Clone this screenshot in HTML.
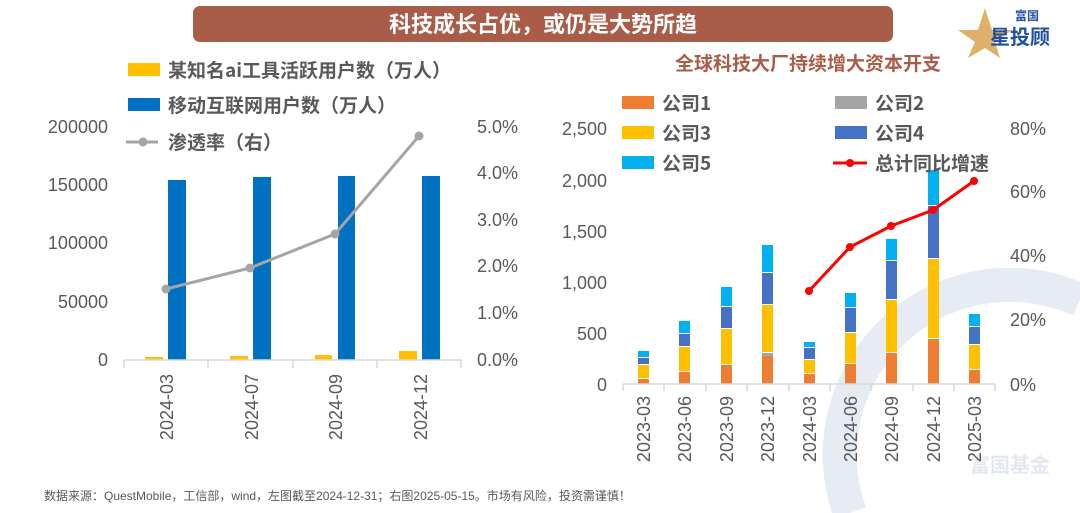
<!DOCTYPE html>
<html><head><meta charset="utf-8"><style>
html,body{margin:0;padding:0;background:#fff;}
svg{display:block;font-family:"Liberation Sans","Noto Sans CJK SC",sans-serif;}
</style></head><body>
<svg width="1080" height="513" viewBox="0 0 1080 513" xmlns="http://www.w3.org/2000/svg">
<rect width="1080" height="513" fill="#fff"/>
<!-- watermark -->
<path d="M850 513 A170 170 0 0 1 1080 300" fill="none" stroke="#e6ebf4" stroke-width="34"/>
<text x="1010" y="472" font-size="20" fill="#e3e8f0" text-anchor="middle" font-weight="bold">富国基金</text>
<!-- banner -->
<rect x="193" y="6" width="700" height="36" rx="7" fill="#a95d48"/>
<text x="543" y="32" font-size="22" font-weight="bold" fill="#fff" text-anchor="middle" font-family="Noto Sans CJK SC,sans-serif">科技成长占优，或仍是大势所趋</text>
<!-- logo -->
<polygon points="985,8 992,30 1012,30 995,42 1000,58 985,48 968,58 975,42 958,30 978,30" fill="#d9a95a" opacity="0.9"/>
<text x="1015" y="20" font-size="12" font-weight="bold" fill="#1f4fa0" font-family="Noto Sans CJK SC,sans-serif">富国</text>
<text x="990" y="44" font-size="20" font-weight="bold" fill="#1f4fa0" font-family="Noto Sans CJK SC,sans-serif">星投顾</text>

<!-- LEFT CHART -->
<g font-size="18" fill="#595959" text-anchor="end">
<text x="108" y="133">200000</text><text x="108" y="191">150000</text><text x="108" y="249">100000</text><text x="108" y="308">50000</text><text x="108" y="366">0</text>
</g>
<g font-size="18" fill="#595959" text-anchor="start">
<text x="477" y="133">5.0%</text><text x="477" y="179">4.0%</text><text x="477" y="226">3.0%</text><text x="477" y="272">2.0%</text><text x="477" y="319">1.0%</text><text x="477" y="366">0.0%</text>
</g>
<g fill="#0070c0">
<rect x="168" y="180" width="18" height="180"/><rect x="253" y="177" width="18" height="183"/><rect x="338" y="176" width="17" height="184"/><rect x="422" y="176" width="18" height="184"/>
</g>
<g fill="#ffc000">
<rect x="145" y="357" width="18" height="3"/><rect x="230" y="356" width="18" height="4"/><rect x="315" y="355" width="17" height="5"/><rect x="399" y="351" width="18" height="9"/>
</g>
<line x1="124" y1="360" x2="461" y2="360" stroke="#d9d9d9" stroke-width="1.5"/>
<g stroke="#d9d9d9" stroke-width="1.5"><line x1="124" y1="360" x2="124" y2="368"/><line x1="208" y1="360" x2="208" y2="368"/><line x1="293" y1="360" x2="293" y2="368"/><line x1="377" y1="360" x2="377" y2="368"/><line x1="461" y1="360" x2="461" y2="368"/></g>
<polyline points="166,289 250,268 335,234 419,136" fill="none" stroke="#a5a5a5" stroke-width="3"/>
<g fill="#a5a5a5"><circle cx="166" cy="289" r="4.5"/><circle cx="250" cy="268" r="4.5"/><circle cx="335" cy="234" r="4.5"/><circle cx="419" cy="136" r="4.5"/></g>
<g font-size="18" fill="#595959" text-anchor="end">
<text transform="translate(173,374) rotate(-90)">2024-03</text>
<text transform="translate(258,374) rotate(-90)">2024-07</text>
<text transform="translate(342,374) rotate(-90)">2024-09</text>
<text transform="translate(427,374) rotate(-90)">2024-12</text>
</g>
<!-- left legend -->
<rect x="128" y="63" width="32" height="13" fill="#ffc000"/>
<rect x="128" y="98" width="32" height="13" fill="#0070c0"/>
<line x1="126" y1="142" x2="158" y2="142" stroke="#a5a5a5" stroke-width="3"/><circle cx="143" cy="142" r="4.5" fill="#a5a5a5"/>
<g font-size="19" font-weight="bold" fill="#595959" font-family="Noto Sans CJK SC,sans-serif">
<text x="168" y="77">某知名ai工具活跃用户数（万人）</text>
<text x="168" y="112">移动互联网用户数（万人）</text>
<text x="168" y="149">渗透率（右）</text>
</g>

<!-- RIGHT CHART -->
<text x="808" y="70" font-size="19" font-weight="bold" fill="#a95d48" text-anchor="middle" font-family="Noto Sans CJK SC,sans-serif">全球科技大厂持续增大资本开支</text>
<g font-size="18" fill="#595959" text-anchor="end">
<text x="607" y="135">2,500</text><text x="607" y="187">2,000</text><text x="607" y="238">1,500</text><text x="607" y="289">1,000</text><text x="607" y="340">500</text><text x="607" y="391">0</text>
</g>
<g font-size="18" fill="#595959">
<text x="1010" y="135">80%</text><text x="1010" y="198">60%</text><text x="1010" y="262">40%</text><text x="1010" y="326">20%</text><text x="1010" y="391">0%</text>
</g>
<g>
<!-- bars: x, orange top, gray top, yellow top, blue top, cyan top -->
<rect x="638" y="379" width="11" height="5" fill="#ed7d31"/><rect x="638" y="365" width="11" height="13" fill="#ffc000"/><rect x="638" y="358" width="11" height="6" fill="#4472c4"/><rect x="638" y="351" width="11" height="6" fill="#00b0f0"/>
<rect x="679" y="372" width="11" height="12" fill="#ed7d31"/><rect x="679" y="347" width="11" height="24" fill="#ffc000"/><rect x="679" y="334" width="11" height="12" fill="#4472c4"/><rect x="679" y="321" width="11" height="12" fill="#00b0f0"/>
<rect x="721" y="365" width="11" height="19" fill="#ed7d31"/><rect x="721" y="329" width="11" height="35" fill="#ffc000"/><rect x="721" y="307" width="11" height="21" fill="#4472c4"/><rect x="721" y="287" width="11" height="19" fill="#00b0f0"/>
<rect x="762" y="356" width="11" height="28" fill="#ed7d31"/><rect x="762" y="353" width="11" height="3" fill="#a5a5a5"/><rect x="762" y="305" width="11" height="47" fill="#ffc000"/><rect x="762" y="273" width="11" height="31" fill="#4472c4"/><rect x="762" y="245" width="11" height="27" fill="#00b0f0"/>
<rect x="804" y="374" width="11" height="10" fill="#ed7d31"/><rect x="804" y="360" width="11" height="13" fill="#ffc000"/><rect x="804" y="348" width="11" height="11" fill="#4472c4"/><rect x="804" y="342" width="11" height="5" fill="#00b0f0"/>
<rect x="845" y="364" width="11" height="20" fill="#ed7d31"/><rect x="845" y="333" width="11" height="30" fill="#ffc000"/><rect x="845" y="308" width="11" height="24" fill="#4472c4"/><rect x="845" y="293" width="11" height="14" fill="#00b0f0"/>
<rect x="886" y="353" width="11" height="31" fill="#ed7d31"/><rect x="886" y="300" width="11" height="52" fill="#ffc000"/><rect x="886" y="261" width="11" height="38" fill="#4472c4"/><rect x="886" y="239" width="11" height="21" fill="#00b0f0"/>
<rect x="928" y="339" width="11" height="45" fill="#ed7d31"/><rect x="928" y="259" width="11" height="79" fill="#ffc000"/><rect x="928" y="206" width="11" height="52" fill="#4472c4"/><rect x="928" y="170" width="11" height="35" fill="#00b0f0"/>
<rect x="969" y="370" width="11" height="14" fill="#ed7d31"/><rect x="969" y="345" width="11" height="24" fill="#ffc000"/><rect x="969" y="327" width="11" height="17" fill="#4472c4"/><rect x="969" y="314" width="11" height="12" fill="#00b0f0"/>
</g>
<line x1="623" y1="384" x2="995" y2="384" stroke="#d9d9d9" stroke-width="1.5"/>
<g stroke="#d9d9d9" stroke-width="1.5">
<line x1="623" y1="384" x2="623" y2="391"/><line x1="664" y1="384" x2="664" y2="391"/><line x1="706" y1="384" x2="706" y2="391"/><line x1="747" y1="384" x2="747" y2="391"/><line x1="789" y1="384" x2="789" y2="391"/><line x1="830" y1="384" x2="830" y2="391"/><line x1="871" y1="384" x2="871" y2="391"/><line x1="913" y1="384" x2="913" y2="391"/><line x1="954" y1="384" x2="954" y2="391"/><line x1="995" y1="384" x2="995" y2="391"/>
</g>
<polyline points="809,291 850,247 891,226 933,210 974,181" fill="none" stroke="#ff0000" stroke-width="3"/>
<g fill="#ff0000"><circle cx="809" cy="291" r="4"/><circle cx="850" cy="247" r="4"/><circle cx="891" cy="226" r="4"/><circle cx="933" cy="210" r="4"/><circle cx="974" cy="181" r="4"/></g>
<g font-size="18" fill="#595959" text-anchor="end">
<text transform="translate(650,396) rotate(-90)">2023-03</text>
<text transform="translate(691,396) rotate(-90)">2023-06</text>
<text transform="translate(733,396) rotate(-90)">2023-09</text>
<text transform="translate(774,396) rotate(-90)">2023-12</text>
<text transform="translate(816,396) rotate(-90)">2024-03</text>
<text transform="translate(857,396) rotate(-90)">2024-06</text>
<text transform="translate(898,396) rotate(-90)">2024-09</text>
<text transform="translate(940,396) rotate(-90)">2024-12</text>
<text transform="translate(981,396) rotate(-90)">2025-03</text>
</g>
<!-- right legend -->
<rect x="622" y="96" width="32" height="13" fill="#ed7d31"/>
<rect x="622" y="126" width="32" height="13" fill="#ffc000"/>
<rect x="622" y="156" width="32" height="13" fill="#00b0f0"/>
<rect x="835" y="96" width="32" height="13" fill="#a5a5a5"/>
<rect x="835" y="126" width="32" height="13" fill="#4472c4"/>
<line x1="833" y1="163" x2="867" y2="163" stroke="#ff0000" stroke-width="3"/><circle cx="850" cy="163" r="4" fill="#ff0000"/>
<g font-size="19" font-weight="bold" fill="#595959" font-family="Noto Sans CJK SC,sans-serif">
<text x="662" y="110">公司1</text><text x="662" y="140">公司3</text><text x="662" y="170">公司5</text>
<text x="875" y="110">公司2</text><text x="875" y="140">公司4</text><text x="875" y="170">总计同比增速</text>
</g>
<!-- source -->
<text x="44" y="500" font-size="12" fill="#595959" font-family="Liberation Sans,Noto Sans CJK SC,sans-serif">数据来源：QuestMobile，工信部，wind，左图截至2024-12-31；右图2025-05-15。市场有风险，投资需谨慎！</text>
</svg>
</body></html>
